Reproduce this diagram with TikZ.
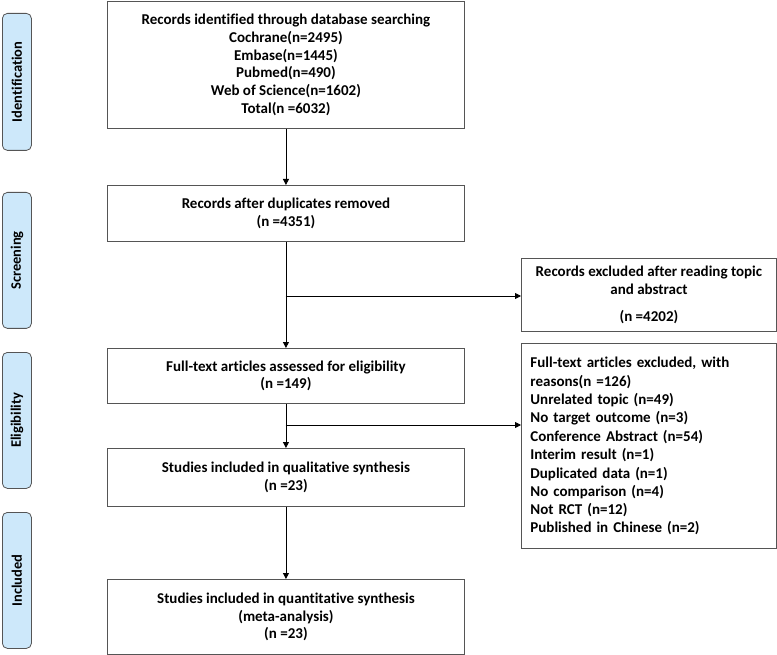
\documentclass[tikz,border=0pt]{standalone}
\usepackage{fontspec}
\setmainfont{Carlito}[Ligatures=NoCommon]
\usetikzlibrary{arrows.meta}
\definecolor{lblue}{HTML}{CDE8FA}
\definecolor{bordergray}{HTML}{555555}
\begin{document}
\begin{tikzpicture}[x=1pt,y=-1pt,
  box/.style={draw=bordergray, line width=0.9pt, fill=white, inner sep=0pt, anchor=north west,
    font=\bfseries\fontsize{15}{17.7}\selectfont, align=center},
  lbox/.style={draw=bordergray, line width=0.8pt, fill=lblue, rounded corners=5pt, anchor=north west,
    minimum width=29, inner sep=0pt},
  ltext/.style={rotate=90, font=\bfseries\fontsize{14.5}{17}\selectfont},
  arr/.style={draw=black, line width=0.8pt, -{Triangle[length=6pt,width=6pt]}},
  ln/.style={draw=black, line width=0.8pt}]
\useasboundingbox (0,0) rectangle (777,655);

% stage labels
\node[lbox, minimum height=137] (L1) at (2,13) {};
\node[ltext] (L1t) at (L1.center) {Identification};
\node[lbox, minimum height=136] (L2) at (2,192) {};
\node[ltext] (L2t) at (L2.center) {Screening};
\node[lbox, minimum height=136] (L3) at (2,352) {};
\node[ltext] (L3t) at (L3.center) {Eligibility};
\node[lbox, minimum height=136] (L4) at (2,512) {};
\node[ltext] (L4t) at (L4.center) {Included};

% main boxes
\node[box, minimum width=357, minimum height=127] (b1) at (107,1)
  {Records identified through database searching\\Cochrane(n=2495)\\Embase(n=1445)\\Pubmed(n=490)\\Web of Science(n=1602)\\Total(n =6032)};
\node[box, minimum width=357, minimum height=56] (b2) at (107,185)
  {Records after duplicates removed\\(n =4351)};
\node[box, minimum width=357, minimum height=55] (b3) at (107,348)
  {Full-text articles assessed for eligibility\\(n =149)};
\node[box, minimum width=357, minimum height=58] (b4) at (107,448)
  {Studies included in qualitative synthesis\\(n =23)};
\node[box, minimum width=357, minimum height=75] (b5) at (107,579)
  {Studies included in quantitative synthesis\\(meta-analysis)\\(n =23)};

% right boxes
\node[box, minimum width=255, minimum height=73] (r1) at (521,258)
  {Records excluded after reading topic\\and abstract\\[10pt](n =4202)};
\node[box, minimum width=255, minimum height=205, align=left, text width=237] (r2) at (521,343)
  {\fontsize{15}{18.4}\selectfont Full-text articles excluded, with\\reasons(n =126)\\Unrelated topic (n=49)\\No target outcome (n=3)\\Conference Abstract (n=54)\\Interim result (n=1)\\Duplicated data (n=1)\\No comparison (n=4)\\Not RCT (n=12)\\Published in Chinese (n=2)};

% connectors
\draw[arr] (b1.south) -- (b2.north);
\draw[arr] (b2.south) -- (b3.north);
\draw[arr] (b3.south) -- (b4.north);
\draw[arr] (b4.south) -- (b5.north);
\coordinate (j1) at (285.5,296);
\coordinate (j2) at (285.5,425);
\draw[arr] (j1) -- (j1 -| r1.west);
\draw[arr] (j2) -- (j2 -| r2.west);
\end{tikzpicture}
\end{document}
